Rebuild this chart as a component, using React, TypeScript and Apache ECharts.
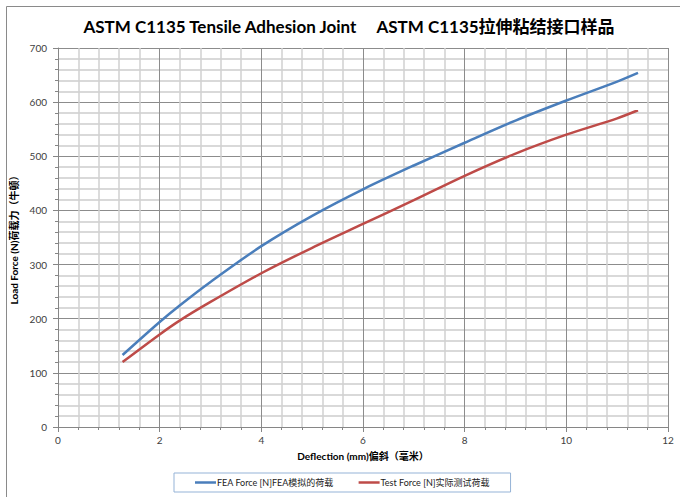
import React, { useEffect, useRef } from "react";
import * as echarts from "echarts";

const titleText = "ASTM C1135 Tensile Adhesion Joint     ASTM C1135拉伸粘结接口样品";
const xAxisName = "Deflection (mm)偏斜（毫米）";
const yAxisName = "Load Force (N)荷载力（牛顿）";
const feaName = "FEA Force [N]FEA模拟的荷载";
const testName = "Test Force [N]实际测试荷载";

const feaX = [1.27, 2, 2.4, 3, 4, 5, 6, 7, 8, 9, 10, 11, 11.41];
const feaY = [133, 194, 225, 268, 334, 390, 439, 483, 525, 566, 603, 638, 654];
const testX = [1.27, 2, 2.4, 3, 4, 5, 6, 7, 8, 9, 10, 11, 11.41];
const testY = [120, 171, 197, 231, 284, 331, 375, 419, 464, 505, 540, 570, 585];

const FONT = 'Lato, "Noto Sans CJK SC", sans-serif';

export default function App() {
  const ref = useRef<HTMLDivElement>(null);
  useEffect(() => {
    if (!ref.current) return;
    const chart = echarts.init(ref.current, null, { renderer: "svg" });
    const pairs = (xs: number[], ys: number[]) => xs.map((x, i) => [x, ys[i]]);
    const axisCommon = {
      axisLine: { show: true, lineStyle: { color: "#868686", width: 1 } },
      axisTick: { show: true, inside: false, length: 5, lineStyle: { color: "#868686" } },
      minorTick: { show: true, splitNumber: 5, length: 3, lineStyle: { color: "#868686" } },
      splitLine: { show: true, lineStyle: { color: "#8c8c8c", width: 1 } },
      axisLabel: { color: "#404040", fontSize: 10, fontFamily: FONT },
      nameLocation: "middle" as const,
      nameTextStyle: { color: "#000", fontSize: 10, fontWeight: "bold" as const, fontFamily: FONT },
    };
    chart.setOption({
      animation: false,
      backgroundColor: "#fff",
      title: {
        text: titleText,
        left: 344,
        textAlign: "center",
        top: 13,
        textStyle: { fontSize: 17, fontWeight: "bold", color: "#000", fontFamily: FONT },
      },
      grid: { left: 58, right: 12, top: 48, bottom: 70, containLabel: false },
      xAxis: {
        ...axisCommon,
        type: "value",
        min: 0,
        max: 12,
        interval: 2,
        name: xAxisName,
        nameGap: 24,
        axisLabel: { ...axisCommon.axisLabel, margin: 8 },
        minorSplitLine: { show: true, lineStyle: { color: "#d0d0d0", width: 1.5 } },
      },
      yAxis: {
        ...axisCommon,
        type: "value",
        min: 0,
        max: 700,
        interval: 100,
        name: yAxisName,
        nameGap: 30,
        axisLabel: { ...axisCommon.axisLabel, margin: 11 },
        minorSplitLine: { show: true, lineStyle: { color: "#d9d9d9", width: 2 } },
      },
      legend: {
        left: 174,
        top: 473,
        orient: "horizontal",
        padding: [5, 21, 5, 21],
        itemGap: 25,
        itemWidth: 21,
        itemHeight: 2.5,
        icon: "rect",
        borderColor: "#95B3D7",
        borderWidth: 1,
        textStyle: { fontSize: 9, color: "#222", fontFamily: FONT, padding: [0, 0, 0, -4] },
        data: [feaName, testName],
      },
      series: [
        {
          name: feaName,
          type: "line",
          data: pairs(feaX, feaY),
          smooth: 0.3,
          symbol: "none",
          lineStyle: { color: "#4A7EBB", width: 2.5 },
          itemStyle: { color: "#4A7EBB" },
        },
        {
          name: testName,
          type: "line",
          data: pairs(testX, testY),
          smooth: 0.3,
          symbol: "none",
          lineStyle: { color: "#BE4B48", width: 2.5 },
          itemStyle: { color: "#BE4B48" },
        },
      ],
      graphic: [
        {
          type: "rect",
          left: 4,
          top: 4,
          shape: { width: 700, height: 600 },
          style: { fill: "none", stroke: "#8a8a8a", lineWidth: 1 },
          silent: true,
        },
      ],
    });
    return () => chart.dispose();
  }, []);
  return (
    <div
      ref={ref}
      style={{ position: "absolute", left: 0, top: 0, width: 680, height: 497 }}
    />
  );
}
